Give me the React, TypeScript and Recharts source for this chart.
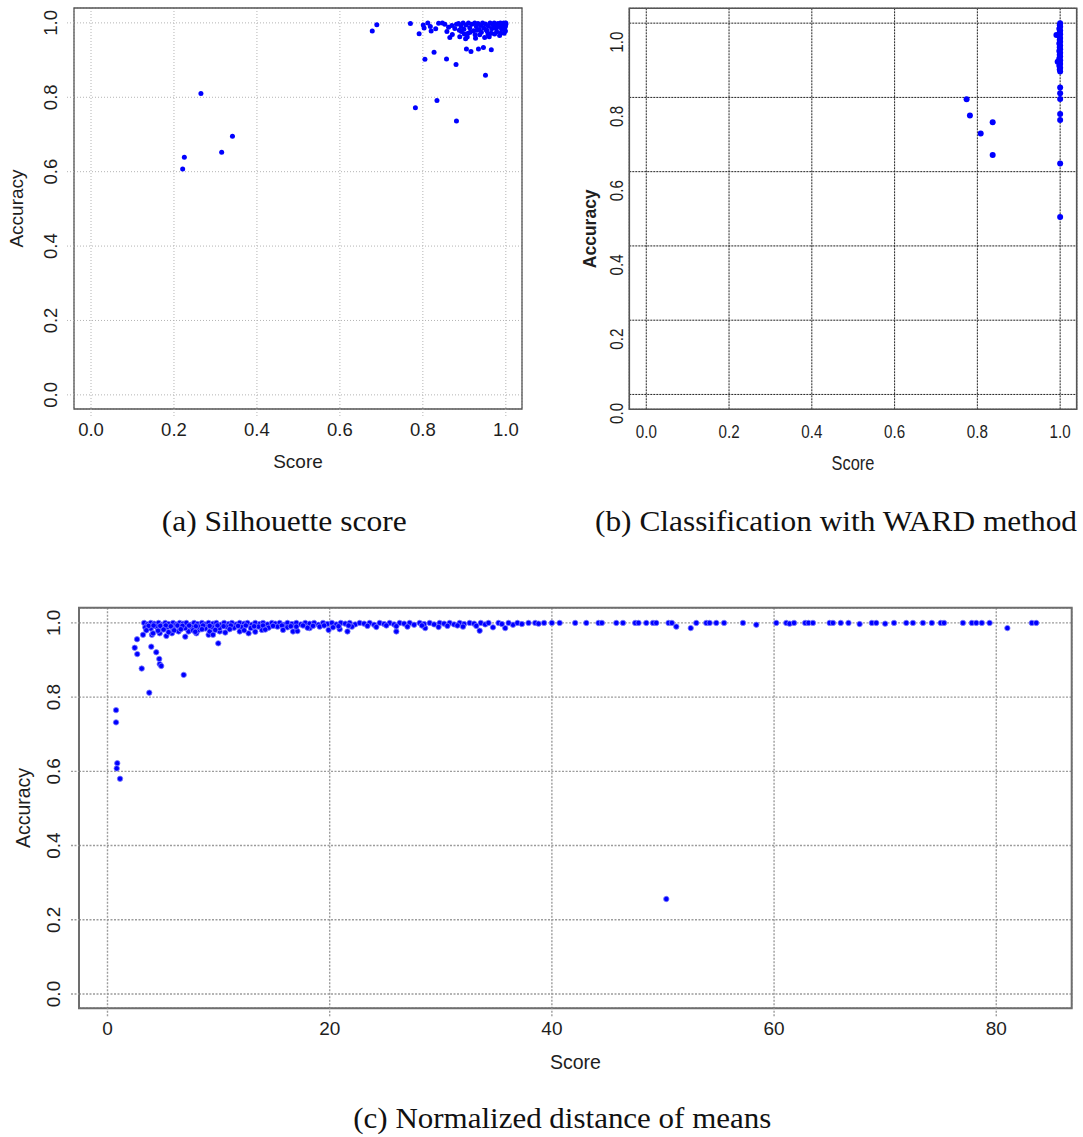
import React from 'react';
import { ScatterChart, Scatter, XAxis, YAxis, CartesianGrid, ReferenceArea, Label } from 'recharts';

// ---------- data (score, accuracy) ----------
const silhouettePoints: [number, number][] = [
  [0.221, 0.607], [0.225, 0.639], [0.265, 0.81], [0.315, 0.652], [0.341, 0.695],
  [0.678, 0.978], [0.689, 0.995], [0.77, 0.998], [0.782, 0.772], [0.791, 0.971], [0.834, 0.791],
  [0.881, 0.736], [0.951, 0.859], [0.805, 0.902], [0.827, 0.921], [0.857, 0.903], [0.88, 0.888],
  [0.905, 0.93], [0.916, 0.923], [0.934, 0.93], [0.946, 0.934], [0.965, 0.928],
  [0.801, 0.994], [0.803, 0.986], [0.812, 1.0], [0.818, 0.99], [0.82, 0.978], [0.831, 0.984],
  [0.838, 0.999], [0.847, 1.0], [0.853, 0.996], [0.858, 0.977], [0.865, 0.961], [0.871, 0.969],
  [0.877, 0.985], [0.881, 0.996], [0.889, 0.963], [0.893, 0.977], [0.903, 0.957], [0.909, 0.972],
  [0.927, 0.959], [0.937, 0.968], [0.949, 0.961], [0.985, 0.966], [0.953, 0.981], [0.965, 0.972],
  [0.977, 0.985], [0.886, 0.998], [0.892, 0.99], [0.897, 1.0], [0.899, 0.983], [0.904, 0.994],
  [0.91, 1.0], [0.913, 0.987], [0.918, 0.996], [0.922, 0.979], [0.925, 1.0], [0.929, 0.99],
  [0.933, 0.998], [0.936, 0.982], [0.94, 0.993], [0.944, 1.0], [0.947, 0.986], [0.951, 0.997],
  [0.955, 0.978], [0.958, 0.991], [0.962, 1.0], [0.966, 0.984], [0.969, 0.995], [0.972, 1.0],
  [0.975, 0.989], [0.978, 0.976], [0.981, 0.998], [0.984, 0.99], [0.987, 1.0], [0.99, 0.983],
  [0.992, 0.994], [0.995, 1.0], [0.997, 0.987], [0.999, 0.978], [1.0, 0.996], [1.0, 1.0],
  [0.999, 0.99], [0.996, 0.972], [0.973, 0.97], [0.957, 0.97], [0.941, 0.975], [0.926, 0.968],
  [0.914, 0.975], [0.9, 0.97], [0.888, 0.98], [0.87, 0.993], [0.862, 0.988], [0.907, 0.962],
  [0.93, 0.98], [0.96, 0.963], [0.988, 0.973],
];

const wardPoints: [number, number][] = [
  [0.774, 0.795], [0.782, 0.751], [0.808, 0.703], [0.837, 0.733], [0.837, 0.645],
  [0.991, 0.968], [0.994, 0.896],
  [1.0, 1.0], [0.999, 0.995], [1.0, 0.99], [0.998, 0.985], [1.0, 0.98], [0.999, 0.975],
  [1.0, 0.97], [0.998, 0.965], [1.0, 0.96], [0.999, 0.955], [1.0, 0.95], [0.998, 0.945],
  [1.0, 0.94], [0.999, 0.935], [1.0, 0.93], [0.998, 0.925], [1.0, 0.92], [0.999, 0.915],
  [1.0, 0.91], [0.998, 0.905], [1.0, 0.9], [0.999, 0.895], [1.0, 0.89], [0.998, 0.885],
  [1.0, 0.88], [0.999, 0.875], [1.0, 0.87],
  [1.0, 0.827], [1.0, 0.811], [1.0, 0.796], [1.0, 0.755], [1.0, 0.739], [1.0, 0.622], [1.0, 0.478],
];

const distancePoints: [number, number][] = [
  [0.77, 0.765], [0.77, 0.732], [0.88, 0.622], [0.83, 0.608], [1.13, 0.58],
  [2.45, 0.933], [2.66, 0.956], [2.68, 0.916], [3.08, 0.877], [3.76, 0.812], [3.94, 0.936],
  [4.39, 0.921], [4.66, 0.903], [4.7, 0.889], [4.84, 0.884], [6.86, 0.86], [9.97, 0.945],
  [3.2, 0.968], [4.0, 0.968], [4.1, 0.972], [4.7, 0.972], [5.3, 0.965], [5.8, 0.972], [6.4, 0.977],
  [7.0, 0.963], [7.3, 0.977], [8.0, 0.972], [8.2, 0.981], [9.1, 0.968], [9.2, 0.977], [9.5, 0.968],
  [10.1, 0.977], [11.9, 0.977], [12.7, 0.972], [13.9, 0.981], [16.7, 0.977], [17.1, 0.978],
  [18.2, 0.986], [19.9, 0.981], [20.9, 0.983], [21.6, 0.977], [26.0, 0.977], [28.6, 0.986],
  [33.5, 0.979], [34.7, 0.988], [35.8, 0.986], [36.5, 0.995],
  [3.3, 1.0], [3.6, 0.996], [3.9, 1.0], [4.2, 0.998], [4.6, 1.0], [4.9, 0.995], [5.2, 1.0],
  [5.5, 0.997], [5.9, 1.0], [6.2, 0.996], [6.5, 1.0], [6.8, 0.998], [7.1, 1.0], [7.5, 0.995],
  [7.8, 1.0], [8.1, 0.997], [8.5, 1.0], [8.8, 0.996], [9.1, 1.0], [9.5, 0.998], [9.8, 1.0],
  [10.2, 0.995], [10.5, 1.0], [10.9, 0.997], [11.2, 1.0], [11.6, 0.996], [11.9, 1.0], [12.3, 0.998],
  [12.6, 1.0], [13.0, 0.995], [13.3, 1.0], [13.7, 0.997], [14.0, 1.0], [14.4, 0.996], [14.8, 1.0],
  [15.1, 0.998], [15.5, 1.0], [15.9, 0.995], [16.2, 1.0], [16.6, 0.997], [17.0, 1.0], [17.4, 0.996],
  [17.8, 1.0], [18.2, 0.998], [18.6, 1.0], [19.0, 0.995], [19.4, 1.0], [19.8, 0.997], [20.2, 1.0],
  [20.6, 0.996], [21.0, 1.0], [21.4, 0.998], [21.8, 1.0], [22.3, 0.996], [22.7, 1.0], [23.1, 0.998],
  [23.6, 1.0], [24.0, 0.995], [24.5, 1.0], [24.9, 0.997], [25.4, 1.0], [25.8, 0.996], [26.3, 1.0],
  [26.7, 0.998], [27.2, 1.0], [27.6, 0.995], [28.1, 1.0], [28.5, 0.997], [29.0, 1.0], [29.4, 0.996],
  [29.9, 1.0], [30.3, 0.998], [30.8, 1.0], [31.2, 0.996], [31.7, 1.0], [32.1, 0.997], [32.6, 1.0],
  [33.0, 0.998], [33.6, 1.0], [34.0, 0.996], [34.3, 1.0], [35.2, 1.0], [35.5, 0.997], [36.1, 1.0],
  [36.9, 1.0], [37.3, 0.997], [37.9, 1.0], [38.5, 1.0], [38.8, 0.998], [39.3, 1.0],
  [3.4, 0.988], [3.9, 0.985], [4.4, 0.99], [4.9, 0.986], [5.4, 0.989], [5.9, 0.985], [6.5, 0.99],
  [7.0, 0.986], [7.6, 0.988], [8.2, 0.99], [8.8, 0.985], [9.4, 0.989], [10.1, 0.986], [10.7, 0.99],
  [11.4, 0.987], [12.1, 0.989], [12.9, 0.986], [13.6, 0.99], [14.5, 0.987], [15.3, 0.99],
  [16.2, 0.988], [17.0, 0.99], [18.0, 0.987], [19.1, 0.99], [20.3, 0.988], [22.0, 0.99],
  [24.2, 0.989], [27.0, 0.99], [29.8, 0.989], [32.0, 0.99],
  [3.7, 0.992], [4.15, 0.993], [4.75, 0.992], [5.25, 0.993], [5.7, 0.991], [6.3, 0.993],
  [6.75, 0.992], [7.35, 0.993], [7.95, 0.991], [8.6, 0.993], [9.2, 0.992], [9.9, 0.993],
  [10.45, 0.991], [11.1, 0.993], [11.75, 0.992], [12.45, 0.993], [13.2, 0.991], [14.0, 0.993],
  [14.9, 0.992], [15.7, 0.993], [16.5, 0.991], [17.6, 0.993], [18.5, 0.992], [19.5, 0.993],
  [20.8, 0.991], [21.7, 0.993], [23.4, 0.992], [25.1, 0.993], [26.0, 0.991], [28.3, 0.993],
  [30.6, 0.992], [31.5, 0.993], [33.2, 0.992],
  [3.5, 0.98], [4.55, 0.979], [5.05, 0.982], [6.0, 0.98], [6.6, 0.983], [7.7, 0.98],
  [8.5, 0.983], [9.7, 0.981], [11.0, 0.983], [12.3, 0.98], [14.2, 0.982], [15.8, 0.981],
  [5.5, 0.975], [7.9, 0.976], [10.6, 0.974], [13.3, 0.976],
  [40.0, 1.0], [40.7, 1.0], [42.1, 1.0], [43.1, 1.0], [44.2, 1.0], [44.5, 1.0], [45.8, 1.0],
  [46.4, 1.0], [47.5, 1.0], [47.8, 1.0], [48.5, 1.0], [49.1, 1.0], [49.4, 1.0], [50.5, 1.0],
  [50.8, 1.0], [51.2, 0.99], [52.5, 0.986], [53.0, 1.0], [53.9, 1.0], [54.2, 1.0], [54.8, 1.0],
  [55.5, 1.0], [57.2, 1.0], [58.4, 0.995], [60.2, 1.0], [61.1, 1.0], [61.4, 0.998], [61.8, 1.0],
  [62.8, 1.0], [63.1, 1.0], [63.5, 1.0], [65.0, 1.0], [65.3, 1.0], [66.0, 1.0], [66.7, 1.0],
  [67.7, 0.997], [68.8, 1.0], [69.2, 1.0], [70.0, 0.998], [70.8, 1.0], [71.9, 1.0], [72.5, 1.0],
  [73.4, 1.0], [74.2, 1.0], [75.0, 1.0], [75.3, 1.0], [77.0, 1.0], [77.8, 1.0], [78.2, 1.0],
  [78.7, 1.0], [79.4, 1.0], [81.0, 0.986], [83.2, 1.0], [83.6, 1.0],
  [50.3, 0.256],
];

const unitTicks = [0, 0.2, 0.4, 0.6, 0.8, 1.0];
const distanceTicks = [0, 20, 40, 60, 80];
const captionA = '(a) Silhouette score';
const captionB = '(b) Classification with WARD method';
const captionC = '(c) Normalized distance of means';
const xTitle = 'Score';
const yTitle = 'Accuracy';

// ---------- styling ----------
const SANS = '"Liberation Sans", Arial, Helvetica, sans-serif';
const SERIF = '"Liberation Serif", "Times New Roman", serif';
const INK = '#1e1e1e';
const BLUE = '#0000ff';

const rows = (pts: [number, number][]) => pts.map(([x, y]) => ({ x, y }));

const makeYTick = (fs: number, shift: number, sx: number) => (props: any) => {
  const { x, y, payload } = props;
  return (
    <text
      transform={`translate(${x},${y + shift}) rotate(-90) scale(${sx},1)`}
      textAnchor="middle"
      fontSize={fs}
      fontFamily={SANS}
      fill={INK}
    >
      {Number(payload.value).toFixed(1)}
    </text>
  );
};

const makeXTick = (fs: number, sx: number, digits: number) => (props: any) => {
  const { x, y, payload } = props;
  return (
    <text
      transform={`translate(${x},${y}) scale(${sx},1)`}
      textAnchor="middle"
      dy="0.71em"
      fontSize={fs}
      fontFamily={SANS}
      fill={INK}
    >
      {Number(payload.value).toFixed(digits)}
    </text>
  );
};

const xTitleContent = (dy: number, fs: number, sx: number) => (p: any) => {
  const vb = p.viewBox || {};
  const cx = vb.x + vb.width / 2;
  return (
    <text
      transform={`translate(${cx},${vb.y + dy}) scale(${sx},1)`}
      textAnchor="middle"
      fontSize={fs}
      fontFamily={SANS}
      fill={INK}
    >
      {xTitle}
    </text>
  );
};

const yTitleContent = (dx: number, shift: number, fs: number, weight: number) => (p: any) => {
  const vb = p.viewBox || {};
  const cy = vb.y + vb.height / 2 + shift;
  return (
    <text
      transform={`translate(${vb.x + dx},${cy}) rotate(-90)`}
      textAnchor="middle"
      fontSize={fs}
      fontWeight={weight}
      fontFamily={SANS}
      fill={INK}
    >
      {yTitle}
    </text>
  );
};

const dot = (r: number, stroke?: string) => (p: any) => (
  <circle cx={p.cx} cy={p.cy} r={r} fill={BLUE} stroke={stroke || 'none'} strokeWidth={stroke ? 0.8 : 0} />
);

const domA: [number, number] = [-0.041, 1.039];
const domAy: [number, number] = [-0.038, 1.04];
const domB: [number, number] = [-0.041, 1.04];
const domBy: [number, number] = [-0.04, 1.04];
const domC: [number, number] = [-2.565, 86.79];
const domCy: [number, number] = [-0.0385, 1.041];

export default function App() {
  return (
    <div style={{ position: 'absolute', left: 0, top: 0, width: 1083, height: 1137, background: '#fff' }}>
      <svg width={1083} height={1137} style={{ position: 'absolute', left: 0, top: 0 }}>
        <text x={161.7} y={531} fontFamily={SERIF} fontSize={29} fill="#111" textLength={245} lengthAdjust="spacingAndGlyphs">
          {captionA}
        </text>
        <text x={595} y={531} fontFamily={SERIF} fontSize={29} fill="#111" textLength={482} lengthAdjust="spacingAndGlyphs">
          {captionB}
        </text>
        <text x={353.3} y={1128} fontFamily={SERIF} fontSize={29} fill="#111" textLength={418} lengthAdjust="spacingAndGlyphs">
          {captionC}
        </text>
      </svg>

      {/* (a) Silhouette score */}
      <div style={{ position: 'absolute', left: 0, top: 0 }}>
        <ScatterChart width={540} height={480} margin={{ top: 8, right: 18, bottom: 0, left: 0 }}>
          <CartesianGrid stroke="#b4b4b4" strokeDasharray="1 2" />
          <XAxis
            type="number"
            dataKey="x"
            domain={domA}
            allowDataOverflow
            ticks={unitTicks}
            interval={0}
            height={71}
            axisLine={false}
            tickSize={7}
            tickMargin={7}
            tickLine={{ stroke: '#b4b4b4', strokeDasharray: '1 2' }}
            tick={makeXTick(18.5, 1, 1)}
          >
            <Label content={xTitleContent(59, 19, 1)} />
          </XAxis>
          <YAxis
            type="number"
            dataKey="y"
            domain={domAy}
            allowDataOverflow
            ticks={unitTicks}
            interval={0}
            width={74}
            axisLine={false}
            tickSize={7}
            tickMargin={10}
            tickLine={{ stroke: '#b4b4b4', strokeDasharray: '1 2' }}
            tick={makeYTick(18.5, 0, 1)}
          >
            <Label content={yTitleContent(23, 0, 19, 400)} />
          </YAxis>
          <ReferenceArea x1={domA[0]} x2={domA[1]} y1={domAy[0]} y2={domAy[1]} fill="none" stroke="#555" strokeWidth={1.3} ifOverflow="visible" />
          <Scatter data={rows(silhouettePoints)} isAnimationActive={false} shape={dot(2.5)} />
        </ScatterChart>
      </div>

      {/* (b) WARD */}
      <div style={{ position: 'absolute', left: 560, top: 0 }}>
        <ScatterChart width={523} height={480} margin={{ top: 8.3, right: 6.3, bottom: 0, left: 0 }}>
          <CartesianGrid stroke="#222" strokeDasharray="2 1" />
          <XAxis
            type="number"
            dataKey="x"
            domain={domB}
            allowDataOverflow
            ticks={unitTicks}
            interval={0}
            height={70.7}
            axisLine={false}
            tickLine={false}
            tickSize={0}
            tickMargin={15.5}
            tick={makeXTick(18.5, 0.82, 1)}
          >
            <Label content={xTitleContent(60.5, 20, 0.82)} />
          </XAxis>
          <YAxis
            type="number"
            dataKey="y"
            domain={domBy}
            allowDataOverflow
            ticks={unitTicks}
            interval={0}
            width={69.3}
            axisLine={false}
            tickLine={false}
            tickSize={0}
            tickMargin={6}
            tick={makeYTick(18.5, 19, 0.82)}
          >
            <Label content={yTitleContent(35.5, 20, 17.5, 700)} />
          </YAxis>
          <ReferenceArea x1={domB[0]} x2={domB[1]} y1={domBy[0]} y2={domBy[1]} fill="none" stroke="#555" strokeWidth={1.6} ifOverflow="visible" />
          <Scatter data={rows(wardPoints)} isAnimationActive={false} shape={dot(3)} />
        </ScatterChart>
      </div>

      {/* (c) Normalized distance of means */}
      <div style={{ position: 'absolute', left: 0, top: 590 }}>
        <ScatterChart width={1083} height={500} margin={{ top: 17.7, right: 11.3, bottom: 0, left: 0 }}>
          <CartesianGrid stroke="#9c9c9c" strokeDasharray="2 1.5" strokeWidth={1.4} />
          <XAxis
            type="number"
            dataKey="x"
            domain={domC}
            allowDataOverflow
            ticks={distanceTicks}
            interval={0}
            height={81.7}
            axisLine={false}
            tickSize={8}
            tickMargin={5.5}
            tickLine={{ stroke: '#9c9c9c', strokeDasharray: '2 1.5', strokeWidth: 1.4 }}
            tick={makeXTick(19, 1, 0)}
          >
            <Label content={xTitleContent(61, 19.5, 1)} />
          </XAxis>
          <YAxis
            type="number"
            dataKey="y"
            domain={domCy}
            allowDataOverflow
            ticks={unitTicks}
            interval={0}
            width={79}
            axisLine={false}
            tickSize={8}
            tickMargin={11}
            tickLine={{ stroke: '#9c9c9c', strokeDasharray: '2 1.5', strokeWidth: 1.4 }}
            tick={makeYTick(19, 0, 1)}
          >
            <Label content={yTitleContent(30, 0, 19.5, 400)} />
          </YAxis>
          <ReferenceArea x1={domC[0]} x2={domC[1]} y1={domCy[0]} y2={domCy[1]} fill="none" stroke="#6e6e6e" strokeWidth={2} ifOverflow="visible" />
          <Scatter data={rows(distancePoints)} isAnimationActive={false} shape={dot(2.7, '#7b7bff')} />
        </ScatterChart>
      </div>
    </div>
  );
}
